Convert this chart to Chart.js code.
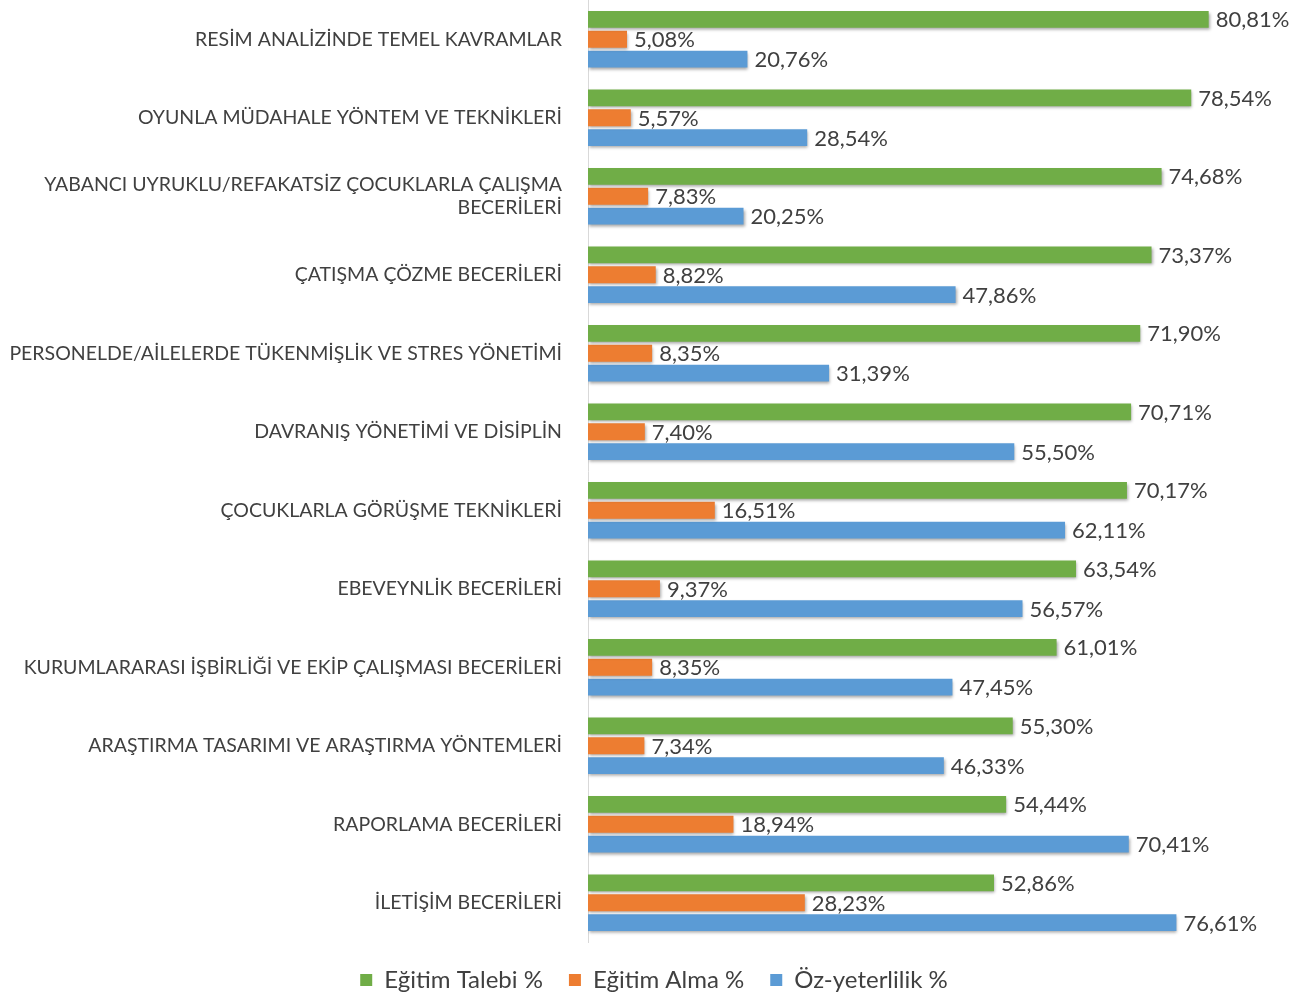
<!DOCTYPE html>
<html>
<head>
<meta charset="utf-8">
<script src="https://cdn.jsdelivr.net/npm/chart.js@4/dist/chart.umd.min.js"></script>
<style>
  html, body { margin: 0; padding: 0; background: #ffffff; }
  #wrap { width: 1308px; height: 998px; position: relative; }
</style>
</head>
<body>
<div id="wrap"><canvas id="myChart"></canvas></div>
<script>
const categories = [
  'RESİM ANALİZİNDE TEMEL KAVRAMLAR',
  'OYUNLA MÜDAHALE YÖNTEM VE TEKNİKLERİ',
  ['YABANCI UYRUKLU/REFAKATSİZ ÇOCUKLARLA ÇALIŞMA', 'BECERİLERİ'],
  'ÇATIŞMA ÇÖZME BECERİLERİ',
  'PERSONELDE/AİLELERDE TÜKENMİŞLİK VE STRES YÖNETİMİ',
  'DAVRANIŞ YÖNETİMİ VE DİSİPLİN',
  'ÇOCUKLARLA GÖRÜŞME TEKNİKLERİ',
  'EBEVEYNLİK BECERİLERİ',
  'KURUMLARARASI İŞBİRLİĞİ VE EKİP ÇALIŞMASI BECERİLERİ',
  'ARAŞTIRMA TASARIMI VE ARAŞTIRMA YÖNTEMLERİ',
  'RAPORLAMA BECERİLERİ',
  'İLETİŞİM BECERİLERİ'
]
const egitimTalebi = [80.81, 78.54, 74.68, 73.37, 71.90, 70.71, 70.17, 63.54, 61.01, 55.30, 54.44, 52.86]
const egitimAlma = [5.08, 5.57, 7.83, 8.82, 8.35, 7.40, 16.51, 9.37, 8.35, 7.34, 18.94, 28.23]
const ozYeterlilik = [20.76, 28.54, 20.25, 47.86, 31.39, 55.50, 62.11, 56.57, 47.45, 46.33, 70.41, 76.61]

// value labels at the end of each bar, e.g. "80,81%"
const valueLabels = {
  id: 'valueLabels',
  afterDatasetsDraw(chart) {
    const ctx = chart.ctx
    ctx.save()
    ctx.font = '22px Lato'
    ctx.fillStyle = '#404040'
    ctx.textAlign = 'left'
    ctx.textBaseline = 'middle'
    chart.data.datasets.forEach((ds, i) => {
      chart.getDatasetMeta(i).data.forEach((bar, j) => {
        const txt = ds.data[j].toFixed(2).replace('.', ',') + '%'
        ctx.fillText(txt, bar.x + 7, bar.y + 1)
      })
    })
    ctx.restore()
  }
}

// soft shadow under the bars, like the original
const barShadow = {
  id: 'barShadow',
  beforeDatasetsDraw(chart) {
    const ctx = chart.ctx
    ctx.save()
    ctx.shadowColor = 'rgba(0,0,0,0.35)'
    ctx.shadowBlur = 3
    ctx.shadowOffsetX = 1
    ctx.shadowOffsetY = 2
  },
  afterDatasetsDraw(chart) {
    chart.ctx.restore()
  }
}

const config = {
  type: 'bar',
  data: {
    labels: categories,
    datasets: [
      {
        label: 'Eğitim Talebi %',
        backgroundColor: '#70ad47',
        data: egitimTalebi
      },
      {
        label: 'Eğitim Alma %',
        backgroundColor: '#ed7d31',
        data: egitimAlma
      },
      {
        label: 'Öz-yeterlilik %',
        backgroundColor: '#5b9bd5',
        data: ozYeterlilik
      }
    ]
  },
  options: {
    indexAxis: 'y',
    responsive: true,
    maintainAspectRatio: false,
    animation: false,
    categoryPercentage: 0.76,
    barPercentage: 0.85,
    layout: {
      padding: { left: 8, right: 8, top: 0, bottom: -4 }
    },
    scales: {
      x: {
        display: false,
        min: 0,
        max: 92.7
      },
      y: {
        grid: { display: false },
        border: { display: true, color: '#d9d9d9', width: 1 },
        ticks: {
          color: '#404040',
          font: { family: 'Lato', size: 19.5 },
          padding: 18
        },
        afterFit(scale) {
          scale.width = 580
          scale.paddingTop = 0
          scale.paddingBottom = 0
        }
      }
    },
    plugins: {
      legend: {
        position: 'bottom',
        labels: {
          color: '#404040',
          font: { family: 'Lato', size: 24 },
          boxWidth: 12,
          boxHeight: 12,
          padding: 26
        }
      },
      tooltip: { enabled: false }
    }
  },
  plugins: [barShadow, valueLabels]
}

Chart.defaults.font.family = 'Lato'
var myChart = new Chart(document.getElementById('myChart'), config)
</script>
</body>
</html>
